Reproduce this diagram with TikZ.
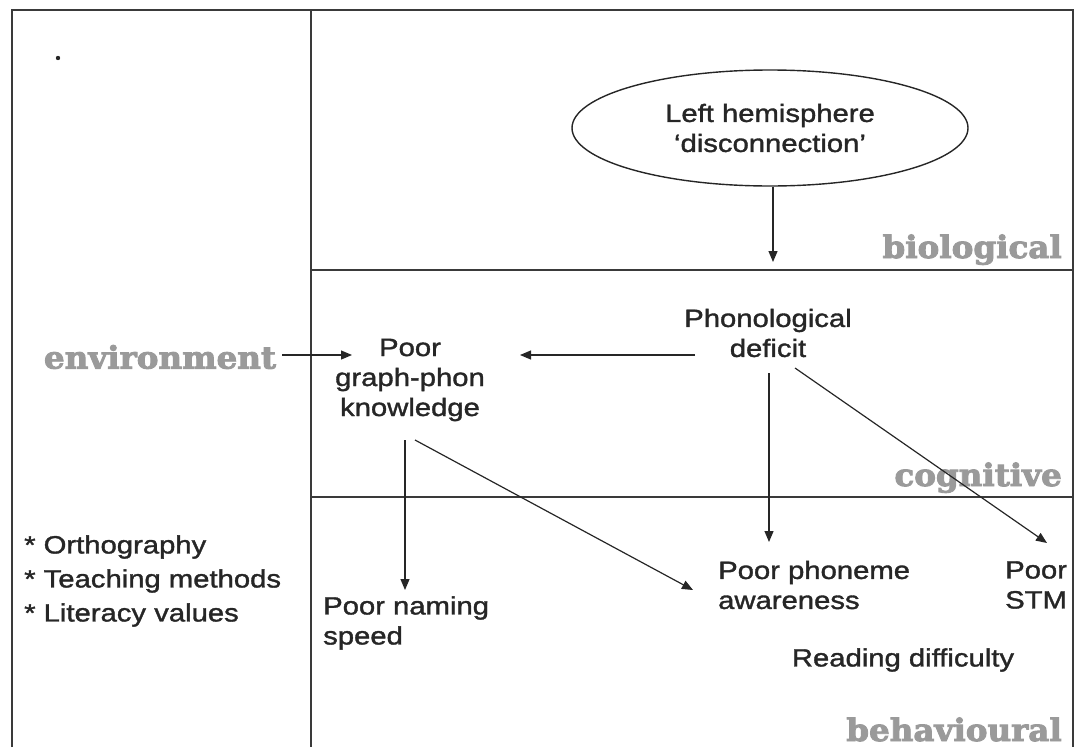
\documentclass[tikz,border=0pt]{standalone}
\usepackage{fontspec}
\setmainfont{Liberation Sans}[FakeStretch=1.17]
\newfontfamily\labfont{DejaVu Serif}[FakeStretch=1.05]
\usetikzlibrary{arrows.meta,shapes.geometric}
\definecolor{ink}{HTML}{262626}
\definecolor{rule}{HTML}{3A3A3A}
\definecolor{levelgray}{HTML}{9A9A9A}
% stroke the glyph outlines so that the letters look heavier
\newcommand\thicktext{\special{pdf:literal direct 2 Tr 0.35 w}}
\newcommand\outlinetext{\special{pdf:literal direct 2 Tr 0.9 w 0.33 0.33 0.33 RG}}
\tikzset{
  frame/.style={draw=rule, line width=1.6pt},
  conn/.style={draw=ink, line width=1.2pt, -{Triangle[length=11pt,width=9pt]}},
  txt/.style={text=ink, font=\fontsize{25}{30}\selectfont\thicktext, inner sep=0pt, align=center},
  txtl/.style={txt, align=left, anchor=west},
  level/.style={text=levelgray, font=\labfont\bfseries\fontsize{31}{34}\selectfont\outlinetext, inner sep=0pt},
}
\begin{document}
\begin{tikzpicture}[x=1pt,y=-1pt]
\useasboundingbox (0,0) rectangle (1076,747);
% frame and level dividers
\draw[frame] (12,747) -- (12,10) -- (1073,10) -- (1073,747);
\draw[frame] (311,10) -- (311,747);
\draw[frame] (311,270) -- (1073,270);
\draw[frame] (311,497) -- (1073,497);

% level names
\node[level, anchor=base east] (bio) at (1062,258) {biological};
\node[level, anchor=base east] (cog) at (1062,486) {cognitive};
\node[level, anchor=base east] (beh) at (1062,741) {behavioural};
\node[level, anchor=center] (env) at (160,357) {environment};

% stray mark in the corner
\fill[ink] (58,58) circle (2.2);

% nodes
\node[draw=ink, line width=1.4pt, ellipse, minimum width=396, minimum height=116, txt] (lh) at (770,128) {Left hemisphere\\\textquoteleft disconnection\textquoteright};
\node[txt] (pd) at (768,333) {Phonological\\deficit};
\node[txt] (gp) at (410,380) {Poor\\graph-phon\\knowledge};
\node[txtl] (pa) at (718,585) {Poor phoneme\\awareness};
\node[txtl] (stm) at (1005,585) {Poor\\STM};
\node[txtl] (ns) at (323,623) {Poor naming\\speed};
\node[txt] (rd) at (903,660) {Reading difficulty};
\node[txtl, font=\fontsize{25}{34}\selectfont\thicktext] (env list) at (24,581) {* Orthography\\* Teaching methods\\* Literacy values};

% connector ends
\coordinate (bioEnd) at (773,262);
\coordinate (envEnd) at (352,355);
\coordinate (pdL) at (695,355);
\coordinate (gpR) at (520,355);
\coordinate (pdD) at (769,373);
\coordinate (paTop) at (769,542);
\coordinate (pdR) at (795,368);
\coordinate (stmTop) at (1047,543);
\coordinate (gpD) at (405,440);
\coordinate (nsTop) at (405,590);
\coordinate (gpR2) at (415,440);
\coordinate (paL) at (693,590);

% connectors
\draw[conn] (lh.south -| bioEnd) -- (bioEnd);
\draw[conn] (env.east) ++(6,-2) -- (envEnd);
\draw[conn] (pdL) -- (gpR);
\draw[conn] (pdD) -- (paTop);
\draw[conn] (pdR) -- (stmTop);
\draw[conn] (gpD) -- (nsTop);
\draw[conn] (gpR2) -- (paL);
\end{tikzpicture}
\end{document}
